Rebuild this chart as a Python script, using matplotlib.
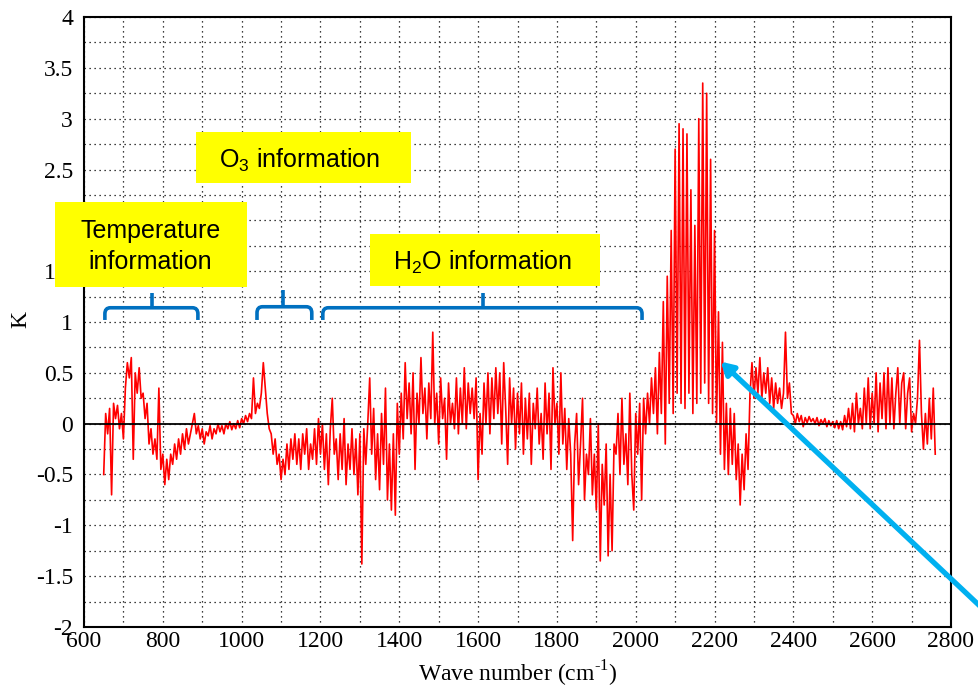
import numpy as np
import matplotlib.pyplot as plt
from matplotlib.patches import Rectangle, PathPatch
from matplotlib.path import Path

plt.rcParams["axes.unicode_minus"] = False

# Brightness temperature difference spectrum (every 5 cm-1)
wavenumber = np.arange(650, 2761, 5)
delta_k = [
    # 650 - 745
    -0.5, 0.1, -0.1, 0.15, -0.7, 0.2, 0.05, 0.18, -0.05, 0.1,
    -0.15, 0.35, 0.6, 0.45, 0.65, -0.35, 0.5, 0.3, 0.55, 0.25,
    # 750 - 845
    0.3, 0.05, 0.2, -0.2, -0.05, -0.3, -0.15, -0.35, 0.35, -0.45,
    -0.3, -0.6, -0.35, -0.55, -0.3, -0.4, -0.2, -0.35, -0.15, -0.3,
    # 850 - 945
    -0.1, -0.25, -0.05, -0.2, -0.1, 0.0, 0.1, -0.1, -0.02, -0.15,
    -0.05, -0.2, -0.08, -0.12, -0.02, -0.15, -0.05, -0.1, 0.0, -0.08,
    # 950 - 1045
    -0.02, -0.1, 0.0, -0.05, 0.02, -0.06, 0.0, -0.05, 0.03, -0.04,
    0.05, 0.0, 0.08, 0.02, 0.1, 0.05, 0.45, 0.1, 0.2, 0.15,
    # 1050 - 1145
    0.3, 0.6, 0.35, 0.1, -0.05, -0.1, -0.3, -0.15, -0.4, -0.3,
    -0.55, -0.35, -0.5, -0.2, -0.45, -0.15, -0.35, -0.1, -0.4, -0.15,
    # 1150 - 1245
    -0.45, -0.1, -0.3, -0.05, -0.45, -0.2, -0.35, -0.05, -0.4, 0.05,
    -0.3, 0.0, -0.45, -0.1, -0.6, -0.05, 0.25, -0.3, -0.15, -0.55,
    # 1250 - 1345
    -0.1, -0.45, 0.05, -0.6, -0.2, -0.45, -0.05, -0.5, -0.15, -0.7,
    -0.1, -1.38, -0.05, -0.4, 0.0, 0.45, -0.3, 0.15, -0.55, -0.1,
    # 1350 - 1445
    -0.65, 0.1, -0.4, 0.35, -0.75, -0.2, -0.85, -0.1, -0.9, 0.2,
    -0.3, 0.3, -0.15, 0.6, 0.05, 0.4, -0.1, 0.5, -0.45, 0.3,
    # 1450 - 1545
    0.0, 0.65, 0.1, 0.35, -0.15, 0.4, 0.05, 0.9, 0.0, 0.3,
    -0.2, 0.45, 0.05, 0.25, -0.35, 0.4, 0.0, 0.2, -0.05, 0.45,
    # 1550 - 1645
    -0.1, 0.35, 0.0, 0.55, -0.05, 0.4, 0.1, 0.35, 0.05, 0.45,
    -0.55, 0.1, -0.3, 0.4, 0.0, 0.5, -0.1, 0.45, 0.05, 0.55,
    # 1650 - 1745
    0.1, 0.5, -0.2, 0.6, 0.15, -0.4, 0.45, 0.0, 0.35, -0.25,
    0.3, -0.1, 0.4, -0.3, 0.25, -0.15, 0.3, -0.4, 0.2, -0.05,
    # 1750 - 1845
    0.35, -0.2, 0.1, -0.35, 0.4, -0.1, 0.3, -0.45, 0.55, 0.0,
    0.2, -0.3, 0.5, -0.2, 0.15, -0.45, 0.05, -0.3, -1.15, -0.2,
    # 1850 - 1945
    0.1, -0.6, -0.2, 0.25, -0.75, -0.3, -0.5, 0.05, -0.7, -0.3,
    -0.85, 0.0, -1.35, -0.4, -0.8, -0.2, -1.3, -0.5, -1.25, -0.2,
    # 1950 - 2045
    -0.3, 0.1, -0.5, 0.25, -0.4, -0.1, -0.6, 0.3, -0.5, -0.85,
    0.1, -0.3, 0.2, -0.75, 0.25, -0.1, 0.3, 0.0, 0.45, 0.1,
    # 2050 - 2145
    0.55, -0.1, 0.7, 0.1, 1.2, -0.2, 1.45, 0.2, 1.9, 0.1,
    2.7, 0.3, 2.95, 0.2, 2.9, 0.15, 2.85, 0.3, 2.3, 0.1,
    # 2150 - 2245
    1.95, 0.2, 3.0, 0.3, 3.35, 0.4, 3.25, 0.2, 2.6, 0.1,
    1.9, 0.0, 1.1, -0.3, 0.8, -0.45, 0.2, -0.5, 0.15, -0.4,
    # 2250 - 2345
    0.1, -0.55, -0.2, -0.8, -0.3, -0.65, -0.1, -0.45, 0.3, 0.6,
    0.25, 0.55, 0.3, 0.65, 0.25, 0.5, 0.3, 0.55, 0.2, 0.45,
    # 2350 - 2445
    0.15, 0.4, 0.2, 0.35, 0.15, 0.3, 0.9, 0.25, 0.4, 0.1,
    0.08, 0.0, 0.1, 0.02, 0.08, -0.03, 0.06, 0.01, 0.07, 0.02,
    # 2450 - 2545
    0.05, 0.0, 0.06, -0.02, 0.04, 0.0, 0.05, -0.03, 0.03, -0.02,
    0.02, -0.04, 0.03, -0.05, 0.02, -0.06, 0.08, -0.03, 0.15, -0.05,
    # 2550 - 2645
    0.2, -0.08, 0.3, 0.0, 0.15, -0.05, 0.35, 0.0, 0.45, -0.05,
    0.3, 0.0, 0.5, -0.08, 0.4, 0.05, 0.5, -0.05, 0.55, 0.0,
    # 2650 - 2745
    0.45, -0.05, 0.3, 0.55, 0.0, 0.4, 0.5, -0.05, 0.3, 0.45,
    -0.08, 0.1, 0.0, 0.25, 0.82, 0.1, -0.25, 0.1, -0.2, 0.25,
    # 2750 - 2760
    -0.15, 0.35, -0.3,
]

x_ticks = np.arange(600, 2801, 200)
y_ticks = np.arange(-2, 4.01, 0.5)
y_tick_labels = ["-2", "-1.5", "-1", "-0.5", "0", "0.5", "1", "1.5", "2", "2.5", "3", "3.5", "4"]

W, H = 979, 688
serif = "Liberation Serif"
sans = "Liberation Sans"
blue = "#0070C0"

fig = plt.figure(figsize=(W / 100, H / 100), dpi=100)
ax = fig.add_axes([84 / W, 1 - 627 / H, (951 - 84) / W, (627 - 17) / H])

ax.plot(wavenumber, delta_k, color="red", lw=1.2, zorder=3)
ax.axhline(0, color="black", lw=1.3, zorder=4)

ax.set_xlim(600, 2800)
ax.set_ylim(-2, 4)
ax.set_xticks(x_ticks)
ax.set_xticks(np.arange(600, 2801, 100), minor=True)
ax.set_yticks(y_ticks)
ax.set_yticklabels(y_tick_labels)
ax.set_yticks(np.arange(-2, 4.01, 0.25), minor=True)
ax.grid(True, which="both", linestyle=(0, (1, 3)), color="black", lw=0.9)
ax.tick_params(which="both", length=0, labelsize=17)
ax.tick_params(axis="y", pad=8)
ax.tick_params(axis="x", pad=3)
for lab in ax.get_xticklabels() + ax.get_yticklabels():
    lab.set_fontfamily(serif)
for sp in ax.spines.values():
    sp.set_linewidth(1.5)

ax.set_xlabel("Wave number (cm$^{\\mathregular{\u20101}}$)", family=serif, fontsize=17, labelpad=5)
fig.text(21 / W, 1 - 320 / H, "K", family=serif, fontsize=17, rotation=90,
         ha="center", va="center")


def brace(x0, x1, xm, y_end, y_top, y_tip, rx=14, ry=0.06):
    verts = [(x0, y_end), (x0, y_top - ry), (x0, y_top), (x0 + rx, y_top),
             (x1 - rx, y_top), (x1, y_top), (x1, y_top - ry), (x1, y_end)]
    codes = [Path.MOVETO, Path.LINETO, Path.CURVE3, Path.CURVE3,
             Path.LINETO, Path.CURVE3, Path.CURVE3, Path.LINETO]
    ax.add_patch(PathPatch(Path(verts, codes), fill=False, ec=blue, lw=2.6,
                           capstyle="butt", zorder=5, clip_on=False))
    ax.plot([xm, xm], [y_top, y_tip], color=blue, lw=2.6, zorder=5,
            solid_capstyle="butt", clip_on=False)


brace(653, 889, 773, 1.02, 1.14, 1.29)
brace(1039, 1178, 1105, 1.02, 1.15, 1.31)
brace(1206, 2016, 1612, 1.02, 1.14, 1.29)


def box(left, top, right, bottom):
    fig.add_artist(Rectangle((left / W, 1 - bottom / H), (right - left) / W,
                             (bottom - top) / H, transform=fig.transFigure,
                             fc="#FFFF00", ec="none", zorder=6))


def label(x, y, s):
    fig.text(x / W, 1 - y / H, s, family=sans, fontsize=18, ha="center",
             va="baseline", zorder=7)


box(196, 132, 411, 183)
label(300, 168, r"O$_\mathregular{3}$ information")
box(55, 202, 247, 287)
label(151, 238, "Temperature")
label(150, 269, "information")
box(370, 234, 600, 286)
label(483, 270, r"H$_\mathregular{2}$O information")

# cyan pointer arrow running off the right edge
ax.annotate("", xy=(2216, 0.61), xycoords="data",
            xytext=(1000, H - 625), textcoords="figure pixels",
            arrowprops=dict(arrowstyle="-|>,head_length=0.6,head_width=0.35",
                            color="#00B0F0", lw=3.8, mutation_scale=12,
                            shrinkA=0, shrinkB=0),
            annotation_clip=False, zorder=8)

fig.savefig("out.png", dpi=100)
